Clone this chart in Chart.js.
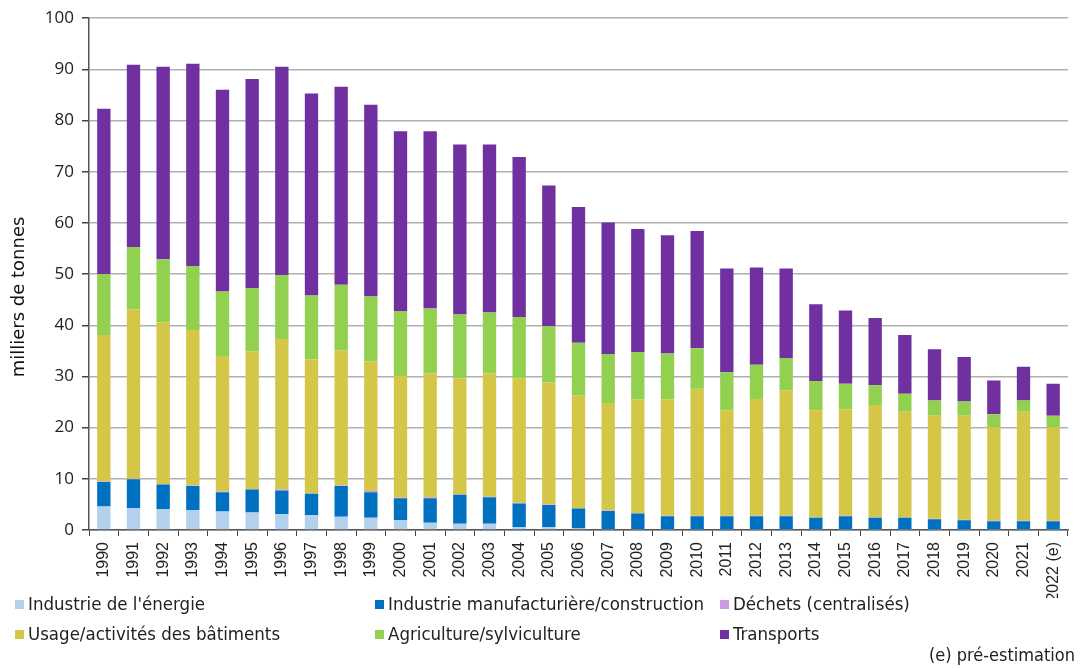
<!DOCTYPE html>
<html lang="fr">
<head>
<meta charset="utf-8">
<script src="https://cdn.jsdelivr.net/npm/chart.js@4"></script>
<style>
  body { margin: 0; background: #fff; }
  #wrap { position: relative; width: 1086px; height: 668px; }
  #legend { position: absolute; left: 0; top: 0; width: 1086px; height: 668px; pointer-events: none;
            font-family: "DejaVu Sans Condensed", "DejaVu Sans", sans-serif; font-size: 18.5px; color: #222; }
  .item { position: absolute; display: flex; align-items: center; white-space: nowrap; line-height: 20px; }
  .box { width: 9px; height: 9px; margin-right: 4px; }
  #note { position: absolute; right: 11px; top: 644px; font-family: "DejaVu Sans Condensed", "DejaVu Sans", sans-serif; font-size: 18px; color: #222; }
</style>
</head>
<body>
<div id="wrap">
  <canvas id="chart" width="1086" height="668"></canvas>
  <div id="legend"></div>
  <div id="note">(e) pré-estimation</div>
</div>
<script>
const years = ["1990","1991","1992","1993","1994","1995","1996","1997","1998","1999",
  "2000","2001","2002","2003","2004","2005","2006","2007","2008","2009",
  "2010","2011","2012","2013","2014","2015","2016","2017","2018","2019",
  "2020","2021","2022 (e)"];

const energie = [4.6,4.3,4.1,3.9,3.6,3.4,3.1,2.9,2.6,2.4,1.9,1.4,1.2,1.2,0.6,0.6,0.3,0.2,0.2,0.1,
  0.1,0.1,0.1,0.1,0.1,0.1,0.1,0.1,0.1,0.1,0.1,0.1,0.1];
const industrie = [4.8,5.6,4.8,4.7,3.8,4.5,4.6,4.2,6.0,5.0,4.3,4.8,5.7,5.2,4.6,4.3,3.9,3.5,3.0,2.6,
  2.6,2.6,2.6,2.6,2.3,2.6,2.3,2.3,2.0,1.8,1.6,1.6,1.6];
const dechets = [0.1,0.1,0.1,0.1,0.1,0.1,0.2,0.1,0.1,0.2,0.1,0.2,0.1,0.1,0.1,0.1,0.1,0.1,0.1,0.1,
  0.1,0.1,0.1,0.1,0.1,0.1,0.1,0.1,0.1,0.1,0.1,0.1,0.1];
const batiments = [28.6,33.1,31.6,30.4,26.5,26.9,29.4,26.1,26.4,25.3,23.8,24.2,22.6,24.1,24.3,23.8,22.0,21.0,22.2,22.7,
  24.8,20.6,22.8,24.5,20.9,20.8,21.9,20.6,20.1,20.3,18.3,21.3,18.3];
const agriculture = [11.9,12.2,12.3,12.5,12.6,12.4,12.5,12.5,12.8,12.7,12.7,12.7,12.5,11.9,12.0,11.0,10.3,9.6,9.3,9.0,
  7.9,7.4,6.7,6.3,5.7,5.0,3.9,3.5,3.0,2.8,2.5,2.2,2.2];
const transports = [32.3,35.6,37.6,39.5,39.4,40.8,40.7,39.5,38.7,37.5,35.1,34.6,33.2,32.8,31.3,27.5,26.5,25.7,24.0,23.1,
  22.9,20.3,19.0,17.5,15.0,14.3,13.1,11.5,10.0,8.7,6.6,6.6,6.3];

const yTicks = [0,10,20,30,40,50,60,70,80,90,100];
const yTitle = "milliers de tonnes";

const series = [
  { label: "Industrie de l'énergie", data: energie, color: "#b3d1ec" },
  { label: "Industrie manufacturière/construction", data: industrie, color: "#0070c0" },
  { label: "Déchets (centralisés)", data: dechets, color: "#cc99e6" },
  { label: "Usage/activités des bâtiments", data: batiments, color: "#d4c646" },
  { label: "Agriculture/sylviculture", data: agriculture, color: "#92d050" },
  { label: "Transports", data: transports, color: "#7030a0" }
];

// legend: 2 rows x 3 columns, filled row by row
const legendCols = [15, 375, 720];
const legendRows = [604, 634];
const legend = document.getElementById("legend");
series.forEach((s, i) => {
  const div = document.createElement("div");
  div.className = "item";
  div.style.left = legendCols[i % 3] + "px";
  div.style.top = (legendRows[Math.floor(i / 3)] - 10) + "px";
  div.innerHTML = `<span class="box" style="background:${s.color}"></span>${s.label}`;
  legend.appendChild(div);
});

// y title drawn by hand, it sits a bit below the middle of the plot in the original
const yTitlePlugin = {
  id: "yTitle",
  afterDraw(chart) {
    const c = chart.ctx;
    c.save();
    c.translate(19, 297);
    c.rotate(-Math.PI / 2);
    c.font = "18px 'DejaVu Sans'";
    c.fillStyle = "#111";
    c.textAlign = "center";
    c.textBaseline = "middle";
    c.fillText(yTitle, 0, 0);
    c.restore();
  }
};

const ctx = document.getElementById("chart").getContext("2d");
new Chart(ctx, {
  type: "bar",
  data: {
    labels: years,
    datasets: series.map(s => ({
      label: s.label,
      data: s.data,
      backgroundColor: s.color,
      borderWidth: 0,
      barPercentage: 0.45,
      categoryPercentage: 1
    }))
  },
  options: {
    responsive: false,
    animation: false,
    layout: { padding: { top: 16, right: 18, bottom: 70, left: 0 } },
    plugins: { legend: { display: false }, tooltip: { enabled: false } },
    scales: {
      x: {
        stacked: true,
        // taller box so the long "2022 (e)" label is not clipped
        afterFit: scale => { scale.height = 68; },
        grid: { display: true, drawOnChartArea: false, drawTicks: true, tickLength: 6, tickColor: "#444", offset: true },
        border: { color: "#555", width: 1.5 },
        ticks: {
          autoSkip: false, minRotation: 90, maxRotation: 90, padding: 6,
          color: "#222", font: { family: "Liberation Sans", size: 16 }
        }
      },
      y: {
        stacked: true,
        min: 0, max: 100,
        afterFit: scale => { scale.width = 89; },
        afterBuildTicks: scale => { scale.ticks = yTicks.map(v => ({ value: v })); },
        grid: { color: "#b0b0b0", lineWidth: 1.5, tickLength: 7, tickColor: "#444" },
        border: { color: "#555", width: 1.5 },
        ticks: { padding: 8, color: "#222", font: { family: "Open Sans", size: 17 } }
      }
    }
  },
  plugins: [yTitlePlugin]
});
</script>
</body>
</html>
